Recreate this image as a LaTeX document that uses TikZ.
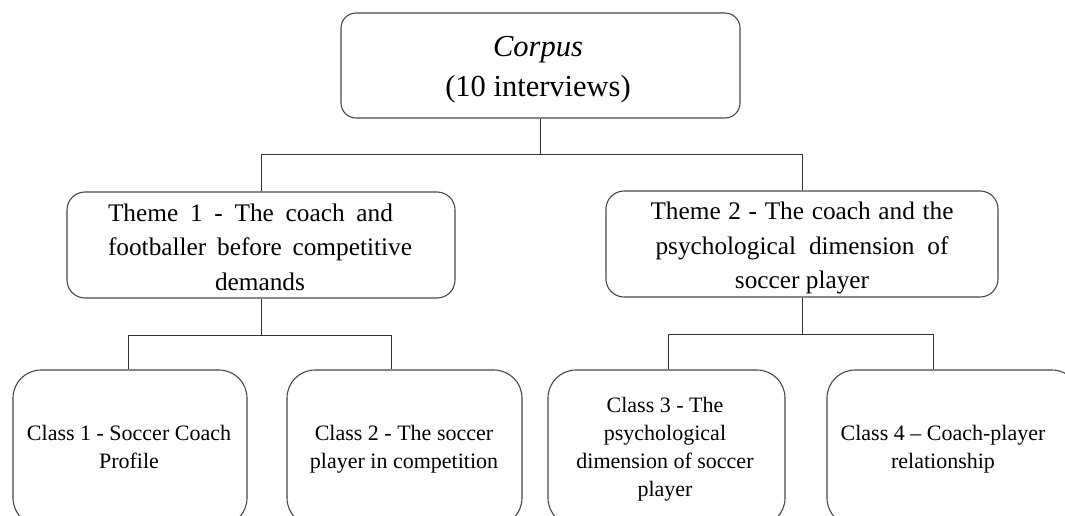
\documentclass[tikz,border=0pt]{standalone}
\usepackage{fontspec}
\setmainfont{Liberation Serif}
\newcommand\corpfont{\fontsize{30.5pt}{40pt}\selectfont}
\newcommand\thmfont{\fontsize{25.3pt}{34.5pt}\selectfont}
\newcommand\clsfont{\fontsize{22pt}{28pt}\selectfont}
\begin{document}
\begin{tikzpicture}[x=1pt,y=-1pt,
  box/.style={draw=black!72, line width=1.1pt, rounded corners=#1, inner sep=0pt},
  box/.default=15pt,
  conn/.style={draw=black!80, line width=0.9pt},
  txt/.style={align=center, inner sep=0pt}]
\useasboundingbox (0,0) rectangle (1065,515);
\clip (0,0) rectangle (1065,515);
% boxes
\node[box=15pt, minimum width=399pt, minimum height=105pt] (corpus) at (540.5,65.5) {};
\node[box=18pt, minimum width=388pt, minimum height=106pt] (t1) at (261,245) {};
\node[box=18pt, minimum width=392pt, minimum height=106pt] (t2) at (802,244) {};
\node[box=28pt, minimum width=234pt, minimum height=156pt] (c1) at (130,448) {};
\node[box=28pt, minimum width=235pt, minimum height=156pt] (c2) at (404.5,448) {};
\node[box=28pt, minimum width=237pt, minimum height=156pt] (c3) at (666.5,448) {};
\node[box=28pt, minimum width=253pt, minimum height=156pt] (c4) at (953.5,448) {};
% texts
\node[txt, font=\corpfont] (corpustxt) at (538,70) {\textit{Corpus}\\(10 interviews)};
\node[txt, font=\thmfont] (t1txt) at (260,247)
  {\makebox[304pt][l]{\makebox[285pt][s]{Theme 1 - The coach and}}\\
   \makebox[304pt][s]{footballer before competitive}\\demands};
\node[txt, font=\thmfont] (t2txt) at (802,248)
  {\makebox[303pt][s]{Theme 2 - The coach and the}\\
   \makebox[293pt][s]{psychological dimension of}\\soccer player};
\node[txt, font=\clsfont] (c1txt) at (129,446.5) {Class 1 - Soccer Coach\\Profile};
\node[txt, font=\clsfont] (c2txt) at (404,449) {Class 2 - The soccer\\player in competition};
\node[txt, font=\clsfont] (c3txt) at (665,449) {Class 3 - The\\psychological\\dimension of soccer\\player};
\node[txt, font=\clsfont] (c4txt) at (943,449) {Class 4 -- Coach-player\\relationship};
% connectors
\draw[conn] (corpus.south) -- ++(0,36) coordinate (j0);
\draw[conn] (t1.north) |- (j0) -| (t2.north);
\draw[conn] (t1.south) -- ++(0,37) coordinate (j1);
\draw[conn] ([xshift=-2pt]c1.north) |- (j1) -| ([xshift=-13.5pt]c2.north);
\draw[conn] (t2.south) -- ++(0,37) coordinate (j2);
\draw[conn] ([xshift=1.5pt]c3.north) |- (j2) -| ([xshift=-20.5pt]c4.north);
\end{tikzpicture}
\end{document}
